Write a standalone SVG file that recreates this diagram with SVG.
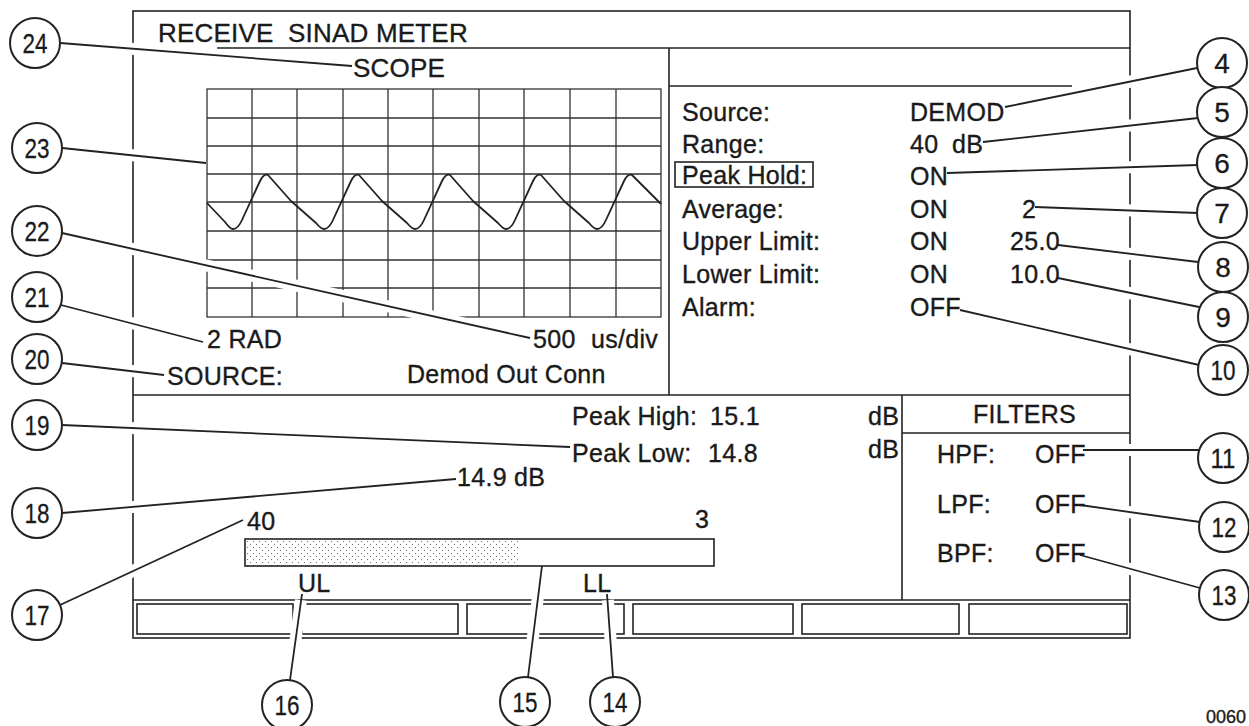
<svg xmlns="http://www.w3.org/2000/svg" width="1249" height="726" viewBox="0 0 1249 726">
<style>
  .ln{stroke:#222;stroke-width:1.6;fill:none}
  .gr{stroke:#333;stroke-width:1.3;fill:none}
  .t{font-family:"Liberation Sans",Arial,Helvetica,sans-serif;font-size:25px;fill:#1a1a1a;stroke:#1a1a1a;stroke-width:0.35;letter-spacing:0.3px}
  .tb{font-family:"Liberation Sans",Arial,Helvetica,sans-serif;font-size:26px;fill:#1a1a1a;stroke:#1a1a1a;stroke-width:0.35;letter-spacing:0.2px}
  .halo{stroke:#fff;stroke-width:12;fill:none}
  .ld{stroke:#222;stroke-width:1.8;fill:none}
  .cc{fill:#fff;stroke:#222;stroke-width:2}
  .cn{font-family:"Liberation Sans",Arial,Helvetica,sans-serif;font-size:28px;fill:#1a1a1a;stroke:#1a1a1a;stroke-width:0.3;text-anchor:middle}
</style>
<defs>
  <pattern id="stip" width="6" height="6" patternUnits="userSpaceOnUse">
    <circle cx="1.5" cy="1.5" r="0.6" fill="#555"/>
    <circle cx="4.5" cy="4.5" r="0.6" fill="#555"/>
  </pattern>
</defs>
<rect width="1249" height="726" fill="#fff"/>

<g id="frame">
  <rect class="ln" x="133" y="11" width="997" height="627"/>
  <line class="ln" x1="217" y1="48" x2="1130" y2="48"/>
  <line class="ln" x1="669" y1="48" x2="669" y2="395"/>
  <line class="ln" x1="669" y1="86" x2="1072" y2="86"/>
  <line class="ln" x1="133" y1="395" x2="1130" y2="395"/>
  <line class="ln" x1="902" y1="395" x2="902" y2="600"/>
  <line class="ln" x1="902" y1="433" x2="1130" y2="433"/>
  <line class="ln" x1="133" y1="600" x2="1130" y2="600"/>
  <rect class="ln" x="137" y="604" width="156" height="30"/>
  <rect class="ln" x="302" y="604" width="156" height="30"/>
  <rect class="ln" x="467" y="604" width="157" height="30"/>
  <rect class="ln" x="633" y="604" width="160" height="30"/>
  <rect class="ln" x="802" y="604" width="157" height="30"/>
  <rect class="ln" x="969" y="604" width="158" height="30"/>
  <rect class="ln" x="675" y="162" width="138" height="25"/>
</g>

<g id="scope">
  <rect class="gr" x="207" y="89" width="454" height="228"/>
  <path class="gr" d="M252,89V317M297,89V317M343,89V317M388,89V317M433,89V317M479,89V317M524,89V317M570,89V317M616,89V317"/>
  <path class="gr" d="M207,118H661M207,146H661M207,174H661M207,202H661M207,231H661M207,260H661M207,288H661"/>
  <path class="ld" stroke-linejoin="round" d="M207,203 L225,222 Q230,229 233,229
    Q238,229 242,220 L260,181 Q264,173 268,175 L291,201 L316,223 Q321,229 324,229
    Q329,229 333,220 L351,181 Q355,173 359,175 L382,201 L407,223 Q412,229 415,229
    Q420,229 424,220 L442,181 Q446,173 450,175 L473,201 L498,223 Q503,229 506,229
    Q511,229 515,220 L533,181 Q537,173 541,175 L564,201 L589,223 Q594,229 597,229
    Q602,229 606,220 L624,181 Q628,173 632,175 L661,204"/>
</g>

<g id="bargraph">
  <rect x="245" y="539" width="273" height="27" fill="url(#stip)"/>
  <rect class="ln" x="245" y="539" width="469" height="27"/>
</g>

<g id="connectors">
  <g class="halo">
    <path d="M60,43L346,66"/>
    <path d="M62,148L198,162"/>
    <path d="M62,233L524,337"/>
    <path d="M61,305L198,340"/>
    <path d="M62,363L158,374"/>
    <path d="M62,425L564,447"/>
    <path d="M62,513L450,480"/>
    <path d="M60,605L238,522"/>
    <path d="M290,680L301,600"/>
    <path d="M528,677L541,572"/>
    <path d="M613,677L608,600"/>
    <path d="M1011,106L1197,68"/>
    <path d="M989,141L1198,118"/>
    <path d="M953,173L1198,165"/>
    <path d="M1041,207L1198,213"/>
    <path d="M1064,246L1198,262"/>
    <path d="M1064,280L1199,307"/>
    <path d="M966,312L1199,365"/>
    <path d="M1089,450L1199,450"/>
    <path d="M1086,506L1200,522"/>
    <path d="M1086,557L1200,588"/>
  </g>
  <g class="ld">
    <path d="M60,43L352,66"/>
    <path d="M62,148L206,163"/>
    <path d="M62,233L530,338"/>
    <path d="M61,305L203,342"/>
    <path d="M62,363L164,375"/>
    <path d="M62,425L570,447"/>
    <path d="M62,513L456,479"/>
    <path d="M60,605L243,520"/>
    <path d="M290,680L302,594"/>
    <path d="M528,677L542,566"/>
    <path d="M613,677L607,594"/>
    <path d="M1005,107L1197,68"/>
    <path d="M983,142L1198,118"/>
    <path d="M947,173L1198,165"/>
    <path d="M1035,207L1198,213"/>
    <path d="M1058,245L1198,262"/>
    <path d="M1058,278L1199,307"/>
    <path d="M960,310L1199,365"/>
    <path d="M1083,450L1199,450"/>
    <path d="M1080,505L1200,522"/>
    <path d="M1080,555L1200,588"/>
  </g>
</g>

<g id="texts">
  <text class="tb" x="158" y="42">RECEIVE</text>
  <text class="tb" x="288" y="42">SINAD METER</text>
  <text class="tb" x="353" y="77">SCOPE</text>

  <text class="t" x="682" y="121">Source:</text>
  <text class="t" x="682" y="153">Range:</text>
  <text class="t" x="682" y="184">Peak Hold:</text>
  <text class="t" x="682" y="218">Average:</text>
  <text class="t" x="682" y="250">Upper Limit:</text>
  <text class="t" x="682" y="283">Lower Limit:</text>
  <text class="t" x="682" y="316">Alarm:</text>

  <text class="t" x="910" y="121">DEMOD</text>
  <text class="t" x="910" y="153">40</text>
  <text class="t" x="952" y="153">dB</text>
  <text class="t" x="910" y="185">ON</text>
  <text class="t" x="910" y="218">ON</text>
  <text class="t" x="1022" y="218">2</text>
  <text class="t" x="910" y="250">ON</text>
  <text class="t" x="1010" y="250">25.0</text>
  <text class="t" x="910" y="283">ON</text>
  <text class="t" x="1010" y="283">10.0</text>
  <text class="t" x="910" y="316">OFF</text>

  <text class="t" x="207" y="348">2 RAD</text>
  <text class="t" x="533" y="348">500</text>
  <text class="t" x="591" y="348">us/div</text>
  <text class="t" x="167" y="385">SOURCE:</text>
  <text class="t" x="407" y="383">Demod Out Conn</text>

  <text class="t" x="572" y="425">Peak High:</text>
  <text class="t" x="710" y="425">15.1</text>
  <text class="t" x="572" y="462">Peak Low:</text>
  <text class="t" x="708" y="462">14.8</text>
  <text class="t" x="868" y="425">dB</text>
  <text class="t" x="868" y="458">dB</text>
  <text class="t" x="457" y="486">14.9 dB</text>

  <text class="t" x="973" y="423">FILTERS</text>
  <text class="t" x="937" y="463">HPF:</text>
  <text class="t" x="1035" y="463">OFF</text>
  <text class="t" x="937" y="513">LPF:</text>
  <text class="t" x="1035" y="513">OFF</text>
  <text class="t" x="937" y="562">BPF:</text>
  <text class="t" x="1035" y="562">OFF</text>

  <text class="t" x="247" y="530">40</text>
  <text class="t" x="695" y="528">3</text>
  <text class="t" x="298" y="592">UL</text>
  <text class="t" x="583" y="592">LL</text>

  <text class="t" x="1206" y="723" style="font-size:18px;letter-spacing:0">0060</text>
</g>

<g id="c24"><circle class="cc" cx="35" cy="43" r="25"/><text class="cn" x="35" y="53" textLength="25" lengthAdjust="spacingAndGlyphs">24</text></g>
<g id="c23"><circle class="cc" cx="37" cy="148" r="25"/><text class="cn" x="37" y="158" textLength="25" lengthAdjust="spacingAndGlyphs">23</text></g>
<g id="c22"><circle class="cc" cx="37" cy="231" r="25"/><text class="cn" x="37" y="241" textLength="25" lengthAdjust="spacingAndGlyphs">22</text></g>
<g id="c21"><circle class="cc" cx="37" cy="297" r="25"/><text class="cn" x="37" y="307" textLength="25" lengthAdjust="spacingAndGlyphs">21</text></g>
<g id="c20"><circle class="cc" cx="37" cy="359" r="25"/><text class="cn" x="37" y="369" textLength="25" lengthAdjust="spacingAndGlyphs">20</text></g>
<g id="c19"><circle class="cc" cx="37" cy="425" r="25"/><text class="cn" x="37" y="435" textLength="25" lengthAdjust="spacingAndGlyphs">19</text></g>
<g id="c18"><circle class="cc" cx="37" cy="513" r="25"/><text class="cn" x="37" y="523" textLength="25" lengthAdjust="spacingAndGlyphs">18</text></g>
<g id="c17"><circle class="cc" cx="37" cy="615" r="25"/><text class="cn" x="37" y="625" textLength="25" lengthAdjust="spacingAndGlyphs">17</text></g>
<g id="c16"><circle class="cc" cx="287" cy="705" r="25"/><text class="cn" x="287" y="715" textLength="25" lengthAdjust="spacingAndGlyphs">16</text></g>
<g id="c15"><circle class="cc" cx="525" cy="702" r="25"/><text class="cn" x="525" y="712" textLength="25" lengthAdjust="spacingAndGlyphs">15</text></g>
<g id="c14"><circle class="cc" cx="615" cy="702" r="25"/><text class="cn" x="615" y="712" textLength="25" lengthAdjust="spacingAndGlyphs">14</text></g>
<g id="c4"><circle class="cc" cx="1222" cy="63" r="25"/><text class="cn" x="1222" y="73">4</text></g>
<g id="c5"><circle class="cc" cx="1222" cy="112" r="25"/><text class="cn" x="1222" y="122">5</text></g>
<g id="c6"><circle class="cc" cx="1222" cy="163" r="25"/><text class="cn" x="1222" y="173">6</text></g>
<g id="c7"><circle class="cc" cx="1222" cy="213" r="25"/><text class="cn" x="1222" y="223">7</text></g>
<g id="c8"><circle class="cc" cx="1223" cy="267" r="25"/><text class="cn" x="1223" y="277">8</text></g>
<g id="c9"><circle class="cc" cx="1223" cy="317" r="25"/><text class="cn" x="1223" y="327">9</text></g>
<g id="c10"><circle class="cc" cx="1223" cy="370" r="25"/><text class="cn" x="1223" y="380" textLength="25" lengthAdjust="spacingAndGlyphs">10</text></g>
<g id="c11"><circle class="cc" cx="1223" cy="458" r="25"/><text class="cn" x="1223" y="468" textLength="25" lengthAdjust="spacingAndGlyphs">11</text></g>
<g id="c12"><circle class="cc" cx="1224" cy="527" r="25"/><text class="cn" x="1224" y="537" textLength="25" lengthAdjust="spacingAndGlyphs">12</text></g>
<g id="c13"><circle class="cc" cx="1224" cy="595" r="25"/><text class="cn" x="1224" y="605" textLength="25" lengthAdjust="spacingAndGlyphs">13</text></g>
</svg>
